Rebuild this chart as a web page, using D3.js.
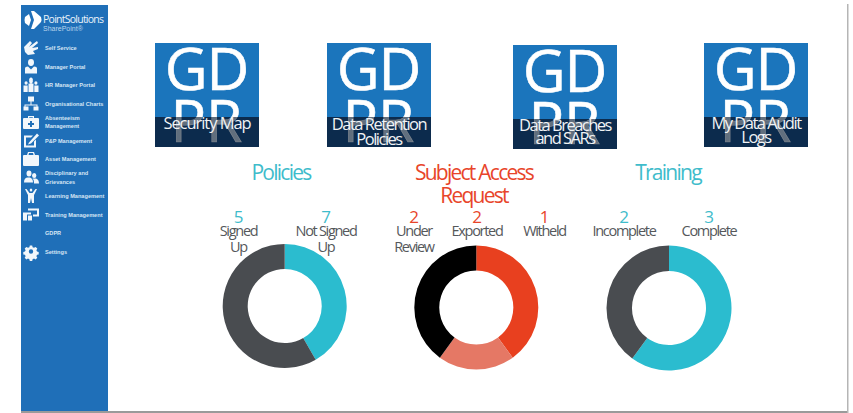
<!DOCTYPE html>
<html>
<head>
<meta charset="utf-8">
<script src="https://cdn.jsdelivr.net/npm/d3@7/dist/d3.min.js"></script>
<style>
  html, body { margin: 0; padding: 0; background: #fff; overflow: hidden; }
  svg { display: block; }
  text { font-family: "Open Sans", sans-serif; }
  .menu text { font-family: "Liberation Sans", sans-serif; font-weight: 700; }
</style>
</head>
<body>
<svg id="page" width="853" height="413"></svg>
<script>
// Dashboard content
const menuLabels = [
  ["Self Service"], ["Manager Portal"], ["HR Manager Portal"], ["Organisational Charts"],
  ["Absenteeism", "Management"], ["P&P Management"], ["Asset Management"],
  ["Disciplinary and", "Grievances"], ["Learning Management"], ["Training Management"],
  ["GDPR"], ["Settings"]
];
const menuIcons = ["hand", "person", "group", "org", "kit", "note", "case", "people", "learn", "board", null, "gear"];

const tileTitles = [
  ["Security Map"],
  ["Data Retention", "Policies"],
  ["Data Breaches", "and SARs"],
  ["My Data Audit", "Logs"]
];

const policyTitle = ["Policies"];
const policyLabels = [["Signed", "Up"], ["Not Signed", "Up"]];
const policyValues = [5, 7];

const requestTitle = ["Subject Access", "Request"];
const requestLabels = [["Under", "Review"], ["Exported"], ["Witheld"]];
const requestValues = [2, 2, 1];

const trainingTitle = ["Training"];
const trainingLabels = [["Incomplete"], ["Complete"]];
const trainingValues = [2, 3];

// Colours
const BLUE = "#1f6fb8", TILE = "#1b75bc", BAND = "#0c2b4d";
const CYAN = "#2bbccf", SLATE = "#494c50", RED = "#e8401f", SALMON = "#e57865";
const TITLE_CYAN = "#3fbccb", TITLE_RED = "#e8452a", LABEL = "#55585b";

const svg = d3.select("#page");
const defs = svg.append("defs");

// Window frame: grey edges at the right and bottom
svg.append("rect").attr("x", 21).attr("y", 411).attr("width", 827).attr("height", 2).attr("fill", "#9a9a9a");
svg.append("rect").attr("x", 847).attr("y", 4).attr("width", 1.5).attr("height", 409).attr("fill", "#b5b5b5");

// Sidebar
const side = svg.append("g").attr("class", "menu");
side.append("rect").attr("x", 21).attr("y", 5).attr("width", 87).attr("height", 406).attr("fill", BLUE);

// Logo: a wedge and a chevron, with the product name beside it
side.append("path").attr("d", "M25 17 L29 14 L31 20 L29 26 L25 23 Q24 20 25 17 Z").attr("fill", "#fff");
side.append("path").attr("d", "M31 11 L34 11 L41 17 Q42 20 41 22 L34 29 L31 29 L34 20 Z").attr("fill", "#fff");
side.append("text").attr("x", 43).attr("y", 23).attr("font-size", 10.5).attr("letter-spacing", -0.75)
  .style("font-family", '"Open Sans", sans-serif').style("font-weight", 400)
  .attr("fill", "#eaf2fa").text("PointSolutions");
side.append("text").attr("x", 43).attr("y", 31).attr("font-size", 7)
  .attr("fill", "#b9d4ec").style("font-weight", 400).text("SharePoint\u00ae");

// Icon outlines in a 16x16 box centred on the origin
const iconPaths = {
  hand: "M-7 -1 L-1 -7 L1 -5 L-2 -1 L6 -7 L7 -5 L1 0 L7 -1 L7 1 L2 3 L4 6 L-3 7 L-6 4 Z",
  person: "M-3 -4 a3 3.4 0 1 1 6 0 a3 3.4 0 1 1 -6 0 Z M-6 7 L-6 2 Q-6 0 -3 0 L0 3 L3 0 Q6 0 6 2 L6 7 Z",
  group: "M-1.8 -4.5 a1.9 2.2 0 1 1 3.6 0 a1.9 2.2 0 1 1 -3.6 0 Z M-2.5 -1.5 h5 v8.5 h-5 Z M-6.5 -2 a1.6 1.8 0 1 1 3.2 0 a1.6 1.8 0 1 1 -3.2 0 Z M-7.5 0.5 h4.2 v6.5 h-4.2 Z M3.3 -2 a1.6 1.8 0 1 1 3.2 0 a1.6 1.8 0 1 1 -3.2 0 Z M3.3 0.5 h4.2 v6.5 h-4.2 Z",
  org: "M-3 -7 h6 v5 h-6 Z M-0.5 -2 h1 v3 h6 v2 h-1 v-1 h-11 v1 h-1 v-2 h6 Z M-7.5 3 h5 v4 h-5 Z M2.5 3 h5 v4 h-5 Z",
  kit: "M-3 -6 h6 v2 h4 q1 0 1 1 v9 q0 1 -1 1 h-14 q-1 0 -1 -1 v-9 q0 -1 1 -1 h4 Z M-1.8 -4.8 v0.8 h3.6 v-0.8 Z M-1 -1 v2 h-2 v2 h2 v2 h2 v-2 h2 v-2 h-2 v-2 Z",
  note: "M-7 -5 h9 l-2 2 h-5 v8 h8 v-4 l2 -2 v8 h-12 Z M-2 2 L6 -7 L8 -5 L0 3 L-3 4 Z",
  case: "M-3 -7 h6 l1 3 h3 q1 0 1 1 v9 q0 1 -1 1 h-14 q-1 0 -1 -1 v-9 q0 -1 1 -1 h3 Z M-2 -6 l-0.5 2 h5 l-0.5 -2 Z",
  people: "M-4.5 -4 a2.5 3 0 1 1 5 0 a2.5 3 0 1 1 -5 0 Z M-7 5 Q-7 0 -3 0 L-1 0 Q2 1 2 5 Z M1 -2 a2.2 2.6 0 1 1 4.4 0 a2.2 2.6 0 1 1 -4.4 0 Z M3 5 Q3 2 1.5 1 L5 1 Q8 2 8 6 L3 6 Z",
  learn: "M-6 -7 L-3 -1 L-3 7 L-1 7 L0 2 L1 7 L3 7 L3 -1 L6 -7 L4.5 -7 L1.5 -3 L-1.5 -3 L-4.5 -7 Z M-1.3 -6 a1.3 1.6 0 1 1 2.6 0 a1.3 1.6 0 1 1 -2.6 0 Z",
  board: "M-3 -6 h11 v8 h-6 v-2 h4 v-4 h-9 Z M-8 -2 h8 v2 h-4 v6 h-4 Z M-3 1 h4 v5 h-4 Z",
  gear: "M-1.2 -6 h2.4 l0.4 1.7 l1.4 0.6 l1.6 -0.9 l1.7 1.7 l-0.9 1.6 l0.6 1.4 l1.7 0.4 v2.4 l-1.7 0.4 l-0.6 1.4 l0.9 1.6 l-1.7 1.7 l-1.6 -0.9 l-1.4 0.6 l-0.4 1.7 h-2.4 l-0.4 -1.7 l-1.4 -0.6 l-1.6 0.9 l-1.7 -1.7 l0.9 -1.6 l-0.6 -1.4 l-1.7 -0.4 v-2.4 l1.7 -0.4 l0.6 -1.4 l-0.9 -1.6 l1.7 -1.7 l1.6 0.9 l1.4 -0.6 Z M-2.2 0 a2.2 2.2 0 1 0 4.4 0 a2.2 2.2 0 1 0 -4.4 0 Z"
};

const menuY = d3.scalePoint().domain(d3.range(menuLabels.length)).range([48, 251.5]);
const rows = side.selectAll("g.row").data(menuLabels).join("g").attr("class", "row")
  .attr("transform", (d, i) => `translate(0,${menuY(i)})`);
rows.filter((d, i) => menuIcons[i]).append("path")
  .attr("transform", "translate(31,0)")
  .attr("fill-rule", "evenodd")
  .attr("fill", "#f2f7fb")
  .attr("d", (d) => iconPaths[menuIcons[menuLabels.indexOf(d)]]);
rows.selectAll("text").data((d) => d.map((t, j) => ({ t, j, n: d.length }))).join("text")
  .attr("x", 45)
  .attr("y", (d) => (d.n === 2 ? (d.j === 0 ? -2.5 : 6) : 2))
  .attr("font-size", 5.6)
  .attr("fill", "#d5e5f4")
  .text((d) => d.t);

// Link tiles
const tileLayout = [
  { x: 155, y: 43, base: [129], tight: -1.05 },
  { x: 327, y: 43, base: [130, 145], tight: -1.5 },
  { x: 513, y: 45, base: [131, 144], tight: -1.5 },
  { x: 704, y: 43, base: [129, 143], tight: -1.5 }
];
const TILE_SIZE = 104, BAND_H = 30;

const tiles = svg.selectAll("g.tile").data(tileTitles).join("g").attr("class", "tile");
tiles.each(function (lines, i) {
  const p = tileLayout[i], g = d3.select(this), cx = p.x + TILE_SIZE / 2;
  const bandY = p.y + TILE_SIZE - BAND_H;
  defs.append("clipPath").attr("id", `tile-clip-${i}`)
    .append("rect").attr("x", p.x).attr("y", p.y).attr("width", TILE_SIZE).attr("height", TILE_SIZE);
  defs.append("clipPath").attr("id", `band-clip-${i}`)
    .append("rect").attr("x", p.x).attr("y", bandY).attr("width", TILE_SIZE).attr("height", BAND_H);

  const inner = g.append("g").attr("clip-path", `url(#tile-clip-${i})`);
  inner.append("rect").attr("x", p.x).attr("y", p.y).attr("width", TILE_SIZE).attr("height", TILE_SIZE).attr("fill", TILE);
  const word = (parent, text, y, fill, opacity) => parent.append("text")
    .attr("x", cx - 0.5).attr("y", y)
    .attr("text-anchor", "middle").attr("font-size", 59)
    .attr("fill", fill).attr("fill-opacity", opacity)
    .attr("stroke", fill).attr("stroke-opacity", opacity).attr("stroke-width", 0.6)
    .text(text);
  word(inner, "GD", p.y + 47, "#fff", 1).attr("letter-spacing", -1);
  word(inner, "PR", p.y + 99, "#fff", 1);

  // The band covers the lower letters, which still show through it as grey
  inner.append("rect").attr("x", p.x).attr("y", bandY)
    .attr("width", TILE_SIZE).attr("height", BAND_H).attr("fill", BAND);
  const ghost = g.append("g").attr("clip-path", `url(#band-clip-${i})`);
  word(ghost, "PR", p.y + 99, "#a8a8a8", 0.55);

  lines.forEach((line, k) => {
    g.append("text").attr("x", cx).attr("y", p.base[k])
      .attr("text-anchor", "middle").attr("font-size", 16.5).attr("letter-spacing", p.tight)
      .attr("fill", "#f1f3f5").text(line);
  });
});

// Donut panels
const panels = [
  { title: policyTitle, labels: policyLabels, values: policyValues,
    arcOrder: [0, 1], colors: [CYAN, SLATE], heading: TITLE_CYAN, numberColor: TITLE_CYAN,
    cx: 284.7, cy: 306, r: 62, titleX: 281, labelX: [238.5, 326] },
  { title: requestTitle, labels: requestLabels, values: requestValues,
    arcOrder: [1, 2, 0], colors: [RED, SALMON, "#000"], heading: TITLE_RED, numberColor: TITLE_RED,
    cx: 476.3, cy: 307.5, r: 62, titleX: 474, labelX: [414, 477, 544.5] },
  { title: trainingTitle, labels: trainingLabels, values: trainingValues,
    arcOrder: [1, 0], colors: [CYAN, SLATE], heading: TITLE_CYAN, numberColor: TITLE_CYAN,
    cx: 669, cy: 308, r: 62.5, titleX: 668, labelX: [624, 709] }
];

const pie = d3.pie().sort(null).value((d) => d.value);

panels.forEach((p) => {
  const g = svg.append("g");

  g.selectAll("text.title").data(p.title).join("text").attr("class", "title")
    .attr("x", p.titleX).attr("y", (d, i) => 180 + i * 23)
    .attr("text-anchor", "middle").attr("font-size", 21).attr("letter-spacing", -1.75)
    .attr("fill", p.heading).text((d) => d);

  p.labels.forEach((lines, i) => {
    g.append("text").attr("x", p.labelX[i]).attr("y", 223)
      .attr("text-anchor", "middle").attr("font-size", 17)
      .attr("fill", p.numberColor).text(p.values[i]);
    lines.forEach((line, k) => {
      g.append("text").attr("x", p.labelX[i]).attr("y", 236 + k * 16)
        .attr("text-anchor", "middle").attr("font-size", 14.5).attr("letter-spacing", -1.3)
        .attr("fill", LABEL).text(line);
    });
  });

  const slices = p.arcOrder.map((idx, n) => ({ value: p.values[idx], color: p.colors[n] }));
  const arc = d3.arc().innerRadius(37).outerRadius(p.r);
  g.append("g").attr("transform", `translate(${p.cx},${p.cy})`)
    .selectAll("path").data(pie(slices)).join("path")
    .attr("d", arc).attr("fill", (d) => d.data.color);
});
</script>
</body>
</html>
